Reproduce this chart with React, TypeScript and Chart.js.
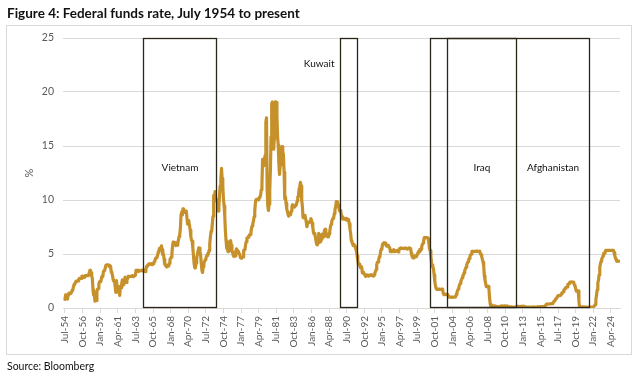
import React, { useEffect, useRef } from 'react';
import { Chart, registerables } from 'chart.js';

Chart.register(...registerables);

// Monthly effective federal funds rate (%), July 1954 onwards
const rates1950s = [
  0.80, 1.22, 1.06, 0.85, 0.83, 1.28,
  1.39, 1.29, 1.35, 1.43, 1.43, 1.64, 1.68, 1.96, 2.18, 2.24, 2.35, 2.48,
  2.45, 2.50, 2.50, 2.62, 2.75, 2.71, 2.75, 2.73, 2.95, 2.96, 2.88, 2.94,
  2.84, 3.00, 2.96, 3.00, 3.00, 3.00, 2.99, 3.24, 3.47, 3.50, 3.28, 2.98,
  2.72, 1.67, 1.20, 1.26, 0.63, 0.93, 0.68, 1.53, 1.76, 1.80, 2.27, 2.42,
  2.48, 2.43, 2.80, 2.96, 2.90, 3.39, 3.47, 3.50, 3.76, 3.98, 4.00, 3.99,
];
const rates1960s = [
  3.99, 3.97, 3.84, 3.92, 3.85, 3.32, 3.23, 2.98, 2.60, 2.47, 2.44, 1.98,
  1.45, 2.54, 2.02, 1.49, 1.98, 1.73, 1.16, 2.00, 1.88, 2.26, 2.61, 2.33,
  2.15, 2.37, 2.85, 2.78, 2.36, 2.68, 2.71, 2.93, 2.90, 2.90, 2.94, 2.93,
  2.92, 3.00, 2.98, 2.90, 3.00, 2.99, 3.02, 3.49, 3.48, 3.50, 3.48, 3.38,
  3.48, 3.48, 3.43, 3.47, 3.50, 3.50, 3.42, 3.50, 3.45, 3.36, 3.52, 3.85,
  3.90, 3.98, 4.04, 4.09, 4.10, 4.04, 4.09, 4.12, 4.01, 4.08, 4.10, 4.32,
  4.42, 4.60, 4.65, 4.67, 4.90, 5.17, 5.30, 5.53, 5.40, 5.53, 5.76, 5.40,
  4.94, 5.00, 4.53, 4.05, 3.94, 3.98, 3.79, 3.90, 3.99, 3.88, 4.13, 4.51,
  4.60, 4.71, 5.05, 5.76, 6.11, 6.07, 6.02, 6.03, 5.78, 5.91, 5.82, 6.02,
  6.30, 6.61, 6.79, 7.41, 8.67, 8.90, 8.61, 9.19, 9.15, 9.00, 8.85, 8.97,
];
const rates1970s = [
  8.98, 8.98, 7.76, 8.10, 7.95, 7.61, 7.21, 6.61, 6.29, 6.20, 5.60, 4.90,
  4.14, 3.72, 3.71, 4.16, 4.63, 4.91, 5.31, 5.56, 5.55, 5.20, 4.91, 4.14,
  3.50, 3.29, 3.83, 4.17, 4.27, 4.46, 4.55, 4.80, 4.87, 5.04, 5.06, 5.33,
  5.94, 6.58, 7.09, 7.12, 7.84, 8.49, 10.40, 10.50, 10.78, 10.01, 10.03, 9.95,
  9.65, 8.97, 9.35, 10.51, 11.31, 11.93, 12.92, 12.01, 11.34, 10.06, 9.45, 8.53,
  7.13, 6.24, 5.54, 5.49, 5.22, 5.55, 6.10, 6.14, 6.24, 5.82, 5.22, 5.20,
  4.87, 4.77, 4.84, 4.82, 5.29, 5.48, 5.31, 5.29, 5.25, 5.02, 4.95, 4.65,
  4.61, 4.68, 4.69, 4.73, 5.35, 5.39, 5.42, 5.90, 6.14, 6.47, 6.51, 6.56,
  6.70, 6.78, 6.79, 6.89, 7.36, 7.60, 7.81, 8.04, 8.45, 8.96, 9.76, 10.03,
  10.07, 10.06, 10.09, 10.01, 10.24, 10.29, 10.47, 10.94, 11.43, 13.77, 13.18, 13.78,
];
const rates1980s = [
  13.82, 14.13, 17.19, 17.61, 10.98, 9.47, 9.03, 9.61, 10.87, 12.81, 15.85, 18.90,
  19.08, 15.93, 14.70, 15.72, 18.52, 19.10, 19.04, 17.82, 15.87, 15.08, 13.31, 12.37,
  13.22, 14.78, 14.68, 14.94, 14.45, 14.15, 12.59, 10.12, 10.31, 9.71, 9.20, 8.95,
  8.68, 8.51, 8.77, 8.80, 8.63, 8.98, 9.37, 9.56, 9.45, 9.48, 9.34, 9.47,
  9.56, 9.59, 9.91, 10.29, 10.32, 11.06, 11.23, 11.64, 11.30, 9.99, 9.43, 8.38,
  8.35, 8.50, 8.58, 8.27, 7.97, 7.53, 7.88, 7.90, 7.92, 7.99, 8.05, 8.27,
  8.14, 7.86, 7.48, 6.99, 6.85, 6.92, 6.56, 6.17, 5.89, 5.85, 6.04, 6.91,
  6.43, 6.10, 6.13, 6.37, 6.85, 6.73, 6.58, 6.73, 7.22, 7.29, 6.69, 6.77,
  6.83, 6.58, 6.58, 6.87, 7.09, 7.51, 7.75, 8.01, 8.19, 8.30, 8.35, 8.76,
  9.12, 9.36, 9.85, 9.84, 9.81, 9.53, 9.24, 8.99, 9.02, 8.84, 8.55, 8.45,
];
const rates1990s = [
  8.23, 8.24, 8.28, 8.26, 8.18, 8.29, 8.15, 8.13, 8.20, 8.11, 7.81, 7.31,
  6.91, 6.25, 6.12, 5.91, 5.78, 5.90, 5.82, 5.66, 5.45, 5.21, 4.81, 4.43,
  4.03, 4.06, 3.98, 3.73, 3.82, 3.76, 3.25, 3.30, 3.22, 3.10, 3.09, 2.92,
  3.02, 3.03, 3.07, 2.96, 3.00, 3.04, 3.06, 3.03, 3.09, 2.99, 3.02, 2.96,
  3.05, 3.25, 3.34, 3.56, 4.01, 4.25, 4.26, 4.47, 4.73, 4.76, 5.29, 5.45,
  5.53, 5.92, 5.98, 6.05, 6.01, 6.00, 5.85, 5.74, 5.80, 5.76, 5.80, 5.60,
  5.56, 5.22, 5.31, 5.22, 5.24, 5.27, 5.40, 5.22, 5.30, 5.24, 5.31, 5.29,
  5.25, 5.19, 5.39, 5.51, 5.50, 5.56, 5.52, 5.54, 5.54, 5.50, 5.52, 5.50,
  5.56, 5.51, 5.49, 5.45, 5.49, 5.56, 5.54, 5.55, 5.51, 5.07, 4.83, 4.68,
  4.63, 4.76, 4.81, 4.74, 4.74, 4.76, 4.99, 5.07, 5.22, 5.20, 5.42, 5.30,
];
const rates2000s = [
  5.45, 5.73, 5.85, 6.02, 6.27, 6.53, 6.54, 6.50, 6.52, 6.51, 6.51, 6.40,
  5.98, 5.49, 5.31, 4.80, 4.21, 3.97, 3.77, 3.65, 3.07, 2.49, 2.09, 1.82,
  1.73, 1.74, 1.73, 1.75, 1.75, 1.75, 1.73, 1.74, 1.75, 1.75, 1.34, 1.24,
  1.24, 1.26, 1.25, 1.26, 1.26, 1.22, 1.01, 1.03, 1.01, 1.01, 1.00, 0.98,
  1.00, 1.01, 1.00, 1.00, 1.00, 1.03, 1.26, 1.43, 1.61, 1.76, 1.93, 2.16,
  2.28, 2.50, 2.63, 2.79, 3.00, 3.04, 3.26, 3.50, 3.62, 3.78, 4.00, 4.16,
  4.29, 4.49, 4.59, 4.79, 4.94, 4.99, 5.24, 5.25, 5.25, 5.25, 5.25, 5.24,
  5.25, 5.26, 5.26, 5.25, 5.25, 5.25, 5.26, 5.02, 4.94, 4.76, 4.49, 4.24,
  3.94, 2.98, 2.61, 2.28, 1.98, 2.00, 2.01, 2.00, 1.81, 0.97, 0.39, 0.16,
  0.15, 0.22, 0.18, 0.15, 0.18, 0.21, 0.16, 0.16, 0.15, 0.12, 0.12, 0.12,
];
const rates2010s = [
  0.11, 0.13, 0.16, 0.20, 0.20, 0.18, 0.18, 0.19, 0.19, 0.19, 0.19, 0.18,
  0.17, 0.16, 0.14, 0.10, 0.09, 0.09, 0.07, 0.10, 0.08, 0.07, 0.08, 0.07,
  0.08, 0.10, 0.13, 0.14, 0.16, 0.16, 0.16, 0.13, 0.14, 0.16, 0.16, 0.16,
  0.14, 0.15, 0.14, 0.15, 0.11, 0.09, 0.09, 0.08, 0.08, 0.09, 0.08, 0.09,
  0.07, 0.07, 0.08, 0.09, 0.09, 0.10, 0.09, 0.09, 0.09, 0.09, 0.09, 0.12,
  0.11, 0.11, 0.11, 0.12, 0.12, 0.13, 0.13, 0.14, 0.14, 0.12, 0.12, 0.24,
  0.34, 0.38, 0.36, 0.37, 0.37, 0.38, 0.39, 0.40, 0.40, 0.40, 0.41, 0.54,
  0.65, 0.66, 0.79, 0.90, 0.91, 1.04, 1.15, 1.16, 1.15, 1.15, 1.16, 1.30,
  1.41, 1.42, 1.51, 1.69, 1.70, 1.82, 1.91, 1.91, 1.95, 2.19, 2.20, 2.27,
  2.40, 2.40, 2.41, 2.42, 2.39, 2.38, 2.40, 2.13, 2.04, 1.83, 1.55, 1.55,
];
const rates2020s = [
  1.55, 1.58, 0.65, 0.05, 0.05, 0.08, 0.09, 0.10, 0.09, 0.09, 0.09, 0.09,
  0.09, 0.08, 0.07, 0.07, 0.06, 0.08, 0.10, 0.09, 0.08, 0.08, 0.08, 0.08,
  0.08, 0.08, 0.20, 0.33, 0.77, 1.21, 1.68, 2.33, 2.56, 3.08, 3.78, 4.10,
  4.33, 4.57, 4.65, 4.83, 5.06, 5.08, 5.12, 5.33, 5.33, 5.33, 5.33, 5.33,
  5.33, 5.33, 5.33, 5.33, 5.33, 5.33, 5.33, 5.33, 5.13, 4.83, 4.64, 4.48,
  4.33, 4.33, 4.33, 4.33, 4.33,
];

const rates = [
  ...rates1950s, ...rates1960s, ...rates1970s, ...rates1980s,
  ...rates1990s, ...rates2000s, ...rates2010s, ...rates2020s,
];

const START_YEAR = 1954;
const START_MONTH = 7;
const MONTH_NAMES = ['Jan', 'Feb', 'Mar', 'Apr', 'May', 'Jun', 'Jul', 'Aug', 'Sep', 'Oct', 'Nov', 'Dec'];
const TICK_STEP_MONTHS = 27;
const TICK_COUNT = 32; // Jul-54 ... Apr-24

const yTicks = [0, 5, 10, 15, 20, 25];

// Conflict periods shown as boxes
const conflicts = ['Vietnam', 'Kuwait', 'Afghanistan', 'Iraq'];
const conflictStart = ['1964-07', '1989-08', '2001-02', '2003-05'];
const conflictEnd = ['1973-11', '1991-10', '2021-06', '2012-02'];

const monthIndex = (ym: string) => {
  const [y, m] = ym.split('-').map(Number);
  return (y - START_YEAR) * 12 + (m - START_MONTH);
};
const labelFor = (i: number) => {
  const abs = START_MONTH - 1 + i;
  const year = START_YEAR + Math.floor(abs / 12);
  const m = abs % 12;
  return `${MONTH_NAMES[m]}-${String(year % 100).padStart(2, '0')}`;
};

const FONT = 'Lato, "Open Sans", sans-serif';
const LINE_COLOR = '#C6912A';

const conflictBoxes = {
  id: 'conflictBoxes',
  afterDatasetsDraw(chart: any) {
    const { ctx, scales } = chart;
    const x = scales.x;
    const y = scales.y;
    const top = Math.round(y.getPixelForValue(25)) + 0.5;
    const bottom = Math.round(y.getPixelForValue(0)) - 0.5;
    const px: Record<string, [number, number]> = {};
    ctx.save();
    ctx.strokeStyle = '#2a2719';
    ctx.lineWidth = 1.3;
    conflicts.forEach((name, k) => {
      const l = Math.round(x.getPixelForValue(monthIndex(conflictStart[k]))) + 0.5;
      const r = Math.round(x.getPixelForValue(monthIndex(conflictEnd[k]))) + 0.5;
      px[name] = [l, r];
      ctx.strokeRect(l, top, r - l, bottom - top);
    });
    ctx.fillStyle = '#111';
    ctx.font = `10px ${FONT}`;
    ctx.textBaseline = 'middle';
    const labelY = y.getPixelForValue(13);
    ctx.textAlign = 'center';
    ctx.fillText('Vietnam', (px.Vietnam[0] + px.Vietnam[1]) / 2, labelY);
    ctx.fillText('Iraq', (px.Iraq[0] + px.Iraq[1]) / 2, labelY);
    ctx.fillText('Afghanistan', (px.Iraq[1] + px.Afghanistan[1]) / 2, labelY);
    ctx.textAlign = 'right';
    ctx.fillText('Kuwait', px.Kuwait[0] - 6, y.getPixelForValue(22.6));
    ctx.restore();
  },
};

export default function App() {
  const ref = useRef<HTMLCanvasElement>(null);

  useEffect(() => {
    if (!ref.current) return;
    const points = rates.map((v, i) => ({ x: i, y: v }));
    const tickValues = Array.from({ length: TICK_COUNT }, (_, k) => k * TICK_STEP_MONTHS);
    const chart = new Chart(ref.current, {
      type: 'line',
      data: {
        datasets: [
          {
            label: 'Federal funds rate',
            data: points,
            borderColor: LINE_COLOR,
            borderWidth: 3.2,
            pointRadius: 0,
            tension: 0,
            borderJoinStyle: 'round',
            borderCapStyle: 'round',
          } as any,
        ],
      },
      options: {
        animation: false,
        responsive: false,
        maintainAspectRatio: false,
        layout: { padding: { top: 38, right: 20, left: 0, bottom: 0 } },
        plugins: { legend: { display: false }, tooltip: { enabled: false } },
        scales: {
          x: {
            type: 'linear',
            min: -3,
            max: 851,
            afterBuildTicks: (s: any) => {
              s.ticks = tickValues.map((v) => ({ value: v }));
            },
            afterFit: (s: any) => {
              s.height = 68;
            },
            ticks: {
              autoSkip: false,
              minRotation: 90,
              maxRotation: 90,
              padding: 3,
              color: '#595959',
              font: { family: FONT, size: 10 },
              callback: (v: any) => labelFor(Number(v)),
            },
            grid: { drawOnChartArea: false, tickLength: 5, color: '#d9d9d9' },
            border: { color: '#d9d9d9' },
          },
          y: {
            min: 0,
            max: 25,
            afterBuildTicks: (s: any) => {
              s.ticks = yTicks.map((v) => ({ value: v }));
            },
            afterFit: (s: any) => {
              s.width = 63;
            },
            ticks: {
              padding: 9,
              color: '#595959',
              font: { family: FONT, size: 10.5 },
            },
            grid: { drawTicks: false, color: '#d9d9d9' },
            border: { display: false },
            title: {
              display: true,
              text: '%',
              color: '#595959',
              font: { family: FONT, size: 11 },
              padding: { top: 23, bottom: 0 },
            },
          },
        },
      },
      plugins: [conflictBoxes],
    });
    return () => chart.destroy();
  }, []);

  return (
    <div style={{ position: 'fixed', left: 0, top: 0, width: 640, height: 376, background: '#fff', overflow: 'hidden' }}>
      <div
        style={{
          position: 'absolute', left: 6, top: 25, width: 626, height: 330,
          border: '1px solid #d9d9d9', boxSizing: 'border-box',
        }}
      />
      <canvas ref={ref} width={640} height={376} style={{ position: 'absolute', left: 0, top: 0, width: 640, height: 376 }} />
      <div
        style={{
          position: 'absolute', left: 7, top: 4, fontFamily: FONT, fontWeight: 700,
          fontSize: 13.5, color: '#111', whiteSpace: 'nowrap', lineHeight: '18px',
        }}
      >
        Figure 4: Federal funds rate, July 1954 to present
      </div>
      <div
        style={{
          position: 'absolute', left: 7, top: 359, fontFamily: FONT,
          fontSize: 10.5, color: '#111', whiteSpace: 'nowrap', lineHeight: '14px',
        }}
      >
        Source: Bloomberg
      </div>
    </div>
  );
}
